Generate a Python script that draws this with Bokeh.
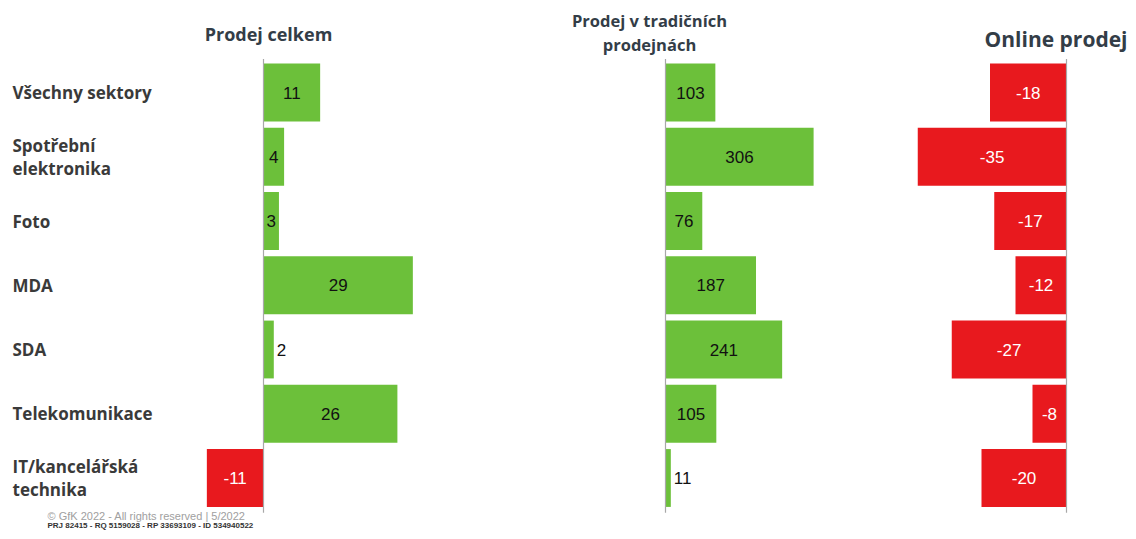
from bokeh.plotting import figure
from bokeh.models import Range1d, ColumnDataSource
from bokeh.embed import file_html
from bokeh.resources import INLINE
from bokeh.core.properties import value

# ---------------- data ----------------
categories = ["Všechny sektory", "Spotřební\nelektronika", "Foto", "MDA", "SDA",
              "Telekomunikace", "IT/kancelářská\ntechnika"]
prodej_celkem = [11, 4, 3, 29, 2, 26, -11]
prodej_tradicni = [103, 306, 76, 187, 241, 105, 11]
prodej_online = [-18, -35, -17, -12, -27, -8, -20]
panel_titles = ["Prodej celkem", "Prodej v tradičních\nprodejnách", "Online prodej"]
footer_1 = "© GfK 2022 - All rights reserved | 5/2022"
footer_2 = "PRJ 82415 - RQ 5159028 - RP 33693109 - ID 534940522"

# ---------------- style ----------------
GREEN = "#6cc03a"
RED = "#e8191e"
LABEL_COL = "#3a3a3a"
TITLE_COL = "#333d47"
AXIS_COL = "#a8a8a8"

W, H = 1128, 531
p = figure(width=W, height=H, output_backend="svg", toolbar_location=None,
           x_range=Range1d(0, W), y_range=Range1d(H, 0), min_border=0)
p.axis.visible = False
p.grid.visible = False
p.outline_line_color = None
p.background_fill_color = "white"
p.border_fill_color = "white"

# row scale (one unit per category)
row_top_px, row_step = 92.0, 64.25
top = -row_top_px / row_step
p.extra_y_ranges = {"rows": Range1d(start=top + H / row_step, end=top)}

rows = list(range(len(categories)))

# category labels
p.text(x=[12] * len(rows), y=rows, text=categories, y_range_name="rows",
       text_font=value("Open Sans"), text_font_style="bold", text_font_size="17px",
       text_color=LABEL_COL, text_align="left", text_baseline="middle",
       text_line_height=1.0)

# panels: (values, zero pixel, pixels per unit)
panels = [
    ("p1", prodej_celkem, 263.0, 5.15),
    ("p2", prodej_tradicni, 665.0, 0.484),
    ("p3", prodej_online, 1066.0, 4.25),
]
extra = {}
for name, vals, zero, ppu in panels:
    extra[name] = Range1d(-zero / ppu, (W - zero) / ppu)
p.extra_x_ranges = extra

for name, vals, zero, ppu in panels:
    colors = [GREEN if v >= 0 else RED for v in vals]
    tcol = ["#111111" if v >= 0 else "white" for v in vals]
    src = ColumnDataSource(dict(y=rows, v=vals, c=colors))
    p.hbar(y="y", left=0, right="v", height=0.9, fill_color="c", line_color=None,
           source=src, x_range_name=name, y_range_name="rows")
    # zero line
    p.segment(x0=[0], x1=[0], y0=[-0.52], y1=[len(rows) - 0.46],
              line_color=AXIS_COL, line_width=1.2,
              x_range_name=name, y_range_name="rows")
    inside = dict(x=[], y=[], t=[], c=[])
    outside = dict(x=[], y=[], t=[], c=[])
    for i, v in enumerate(vals):
        if abs(v) * ppu >= 14:
            inside["x"].append(v / 2); inside["y"].append(i)
            inside["t"].append(str(v)); inside["c"].append(tcol[i])
        else:
            outside["x"].append(v); outside["y"].append(i)
            outside["t"].append(str(v)); outside["c"].append("#111111")
    p.text(x="x", y="y", text="t", text_color="c", source=ColumnDataSource(inside),
           x_range_name=name, y_range_name="rows",
           text_font=value("Liberation Sans"), text_font_size="17px",
           text_align="center", text_baseline="middle")
    p.text(x="x", y="y", text="t", text_color="c", source=ColumnDataSource(outside),
           x_range_name=name, y_range_name="rows", x_offset=3,
           text_font=value("Liberation Sans"), text_font_size="17px",
           text_align="left", text_baseline="middle")

# panel titles
p.text(x=[268], y=[33], text=[panel_titles[0]], text_font=value("Open Sans"),
       text_font_style="bold", text_font_size="18px", text_color=TITLE_COL,
       text_align="center", text_baseline="middle")
p.text(x=[649], y=[32], text=[panel_titles[1]], text_font=value("Open Sans"),
       text_font_style="bold", text_font_size="16.5px", text_color=TITLE_COL,
       text_align="center", text_baseline="middle", text_line_height=1.05)
p.text(x=[1127], y=[38], text=[panel_titles[2]], text_font=value("Open Sans"),
       text_font_style="bold", text_font_size="21px", text_color=TITLE_COL,
       text_align="right", text_baseline="middle")

# footer
p.text(x=[47], y=[515], text=[footer_1], text_font=value("Liberation Sans"),
       text_font_size="11px", text_color="#a0a0a0",
       text_align="left", text_baseline="middle")
p.text(x=[47], y=[525], text=[footer_2], text_font=value("Liberation Sans"),
       text_font_style="bold", text_font_size="8px", text_color="#333333",
       text_align="left", text_baseline="middle")

open("out.html", "w").write(file_html(p, INLINE))
